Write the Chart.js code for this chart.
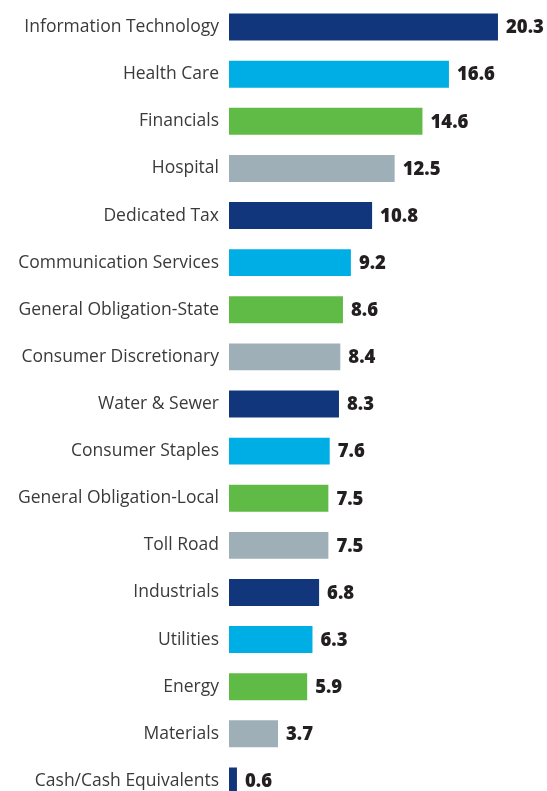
<!DOCTYPE html>
<html>
<head>
<meta charset="utf-8">
<script src="https://cdn.jsdelivr.net/npm/chart.js@4/dist/chart.umd.min.js"></script>
<style>
  html, body { margin: 0; padding: 0; background: #fff; overflow: hidden; }
  #wrap { position: relative; width: 547px; height: 791px; overflow: hidden; }
  #c { position: absolute; left: 0; top: -17px; }
</style>
</head>
<body>
<div id="wrap"><canvas id="c" width="547" height="842"></canvas></div>
<script>
const categories = [
  "Information Technology", "Health Care", "Financials", "Hospital",
  "Dedicated Tax", "Communication Services", "General Obligation-State",
  "Consumer Discretionary", "Water & Sewer", "Consumer Staples",
  "General Obligation-Local", "Toll Road", "Industrials", "Utilities",
  "Energy", "Materials", "Cash/Cash Equivalents"
];
const values = [20.3, 16.6, 14.6, 12.5, 10.8, 9.2, 8.6, 8.4, 8.3, 7.6, 7.5, 7.5, 6.8, 6.3, 5.9, 3.7, 0.6];
const palette = ["#12367c", "#00aee6", "#5fba46", "#9eafb8"];
const barColors = categories.map((_, i) => palette[i % palette.length]);

const valueLabels = {
  id: "valueLabels",
  afterDatasetsDraw(chart) {
    const ctx = chart.ctx;
    const meta = chart.getDatasetMeta(0);
    ctx.save();
    ctx.font = "800 18.5px 'Open Sans'";
    ctx.fillStyle = "#231f20";
    ctx.textAlign = "left";
    ctx.textBaseline = "middle";
    meta.data.forEach((bar, i) => {
      ctx.fillText(values[i].toFixed(1), bar.x + 8, bar.y + 1);
    });
    ctx.restore();
  }
};

new Chart(document.getElementById("c"), {
  type: "bar",
  data: {
    labels: categories,
    datasets: [{
      data: values,
      backgroundColor: barColors,
      borderWidth: 0,
      categoryPercentage: 1,
      barPercentage: 0.572
    }]
  },
  options: {
    indexAxis: "y",
    responsive: false,
    maintainAspectRatio: false,
    animation: false,
    layout: { padding: 0 },
    plugins: { legend: { display: false }, tooltip: { enabled: false } },
    scales: {
      x: { display: false, min: 0, max: 24 },
      y: {
        afterFit(s) { s.width = 229; },
        grid: { display: false, drawTicks: false },
        border: { display: false },
        ticks: {
          padding: 10,
          color: "#3a3a3a",
          font: { family: "'Open Sans'", size: 17.5 }
        }
      }
    }
  },
  plugins: [valueLabels]
});
</script>
</body>
</html>
